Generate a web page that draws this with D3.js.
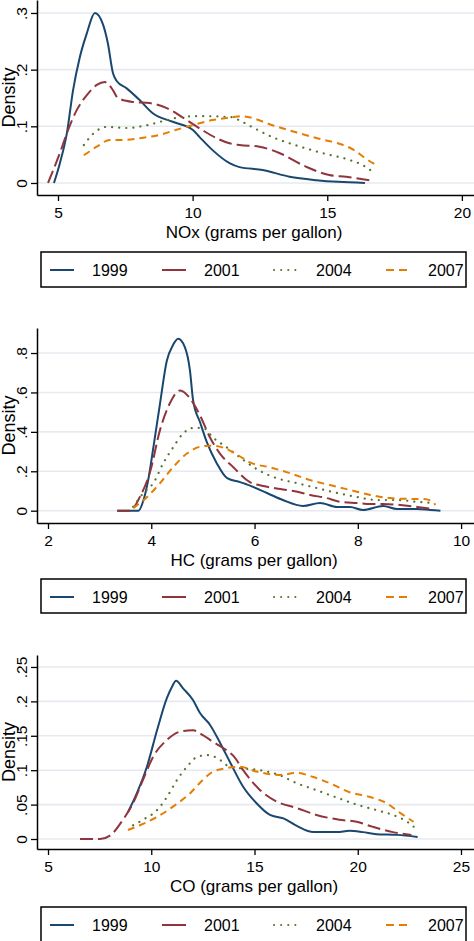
<!DOCTYPE html>
<html><head><meta charset="utf-8">
<script src="https://cdn.jsdelivr.net/npm/d3@7"></script>
<style>body{margin:0;background:#fff;}svg{display:block;font-family:"Liberation Sans",Arial,Helvetica,sans-serif;}</style>
</head><body><svg id="c" width="474" height="941"></svg>
<script>
const years = ["1999","2001","2004","2007"];
const colors = ["#1a476f","#90353b","#55752f","#e37e00"];
const dashes = [null,"13,5","0.1,7","7,5"];

// NOx panel [x, density]
const nox1999 = [[4.85,0],[5.07,0.035],[5.33,0.088],[5.56,0.164],[5.81,0.222],[6.07,0.264],[6.37,0.30],[6.67,0.28],[6.85,0.247],[7.04,0.194],[7.18,0.18],[7.55,0.167],[8.04,0.146],[8.52,0.123],[9.26,0.108],[10.0,0.094],[10.26,0.081],[10.74,0.058],[11.37,0.035],[11.74,0.028],[12.6,0.023],[13.6,0.011],[14.6,0.005],[15.4,0.002],[16.4,0.0]];
const nox2001 = [[4.63,0],[5.07,0.053],[5.33,0.088],[5.7,0.129],[6.07,0.155],[6.44,0.173],[6.74,0.178],[7.04,0.164],[7.22,0.15],[7.78,0.143],[8.41,0.141],[9.04,0.132],[9.78,0.111],[10.37,0.093],[10.89,0.079],[11.37,0.07],[11.74,0.067],[12.48,0.064],[13.22,0.053],[14.2,0.029],[15.07,0.014],[15.7,0.011],[16.56,0.005]];
const nox2004 = [[5.96,0.067],[6.33,0.088],[6.81,0.099],[7.55,0.097],[8.3,0.102],[9.04,0.111],[9.52,0.116],[10.26,0.118],[11.48,0.116],[11.63,0.113],[12.2,0.099],[12.96,0.081],[13.8,0.067],[14.8,0.053],[15.8,0.041],[16.3,0.032],[16.74,0.018]];
const nox2007 = [[5.96,0.049],[6.44,0.064],[6.93,0.076],[7.41,0.076],[8.04,0.079],[8.78,0.085],[9.4,0.094],[10.0,0.102],[10.74,0.111],[11.48,0.116],[11.8,0.118],[12.1,0.116],[12.96,0.102],[13.8,0.09],[14.7,0.078],[15.4,0.07],[16.0,0.058],[16.4,0.044],[16.8,0.032]];

// HC panel
const hc1999 = [[3.34,0],[3.75,0],[3.85,0.054],[3.94,0.155],[4.04,0.32],[4.17,0.545],[4.3,0.76],[4.42,0.84],[4.52,0.872],[4.65,0.83],[4.75,0.71],[4.81,0.56],[4.95,0.445],[5.08,0.345],[5.27,0.24],[5.47,0.165],[5.72,0.145],[5.78,0.14],[6.24,0.09],[6.55,0.054],[6.94,0.024],[7.27,0.039],[7.6,0.019],[7.85,0.019],[8.1,0.004],[8.49,0.024],[8.76,0.009],[9.15,0.009],[9.4,0.004],[9.6,0]];
const hc2001 = [[3.34,0],[3.59,0],[3.78,0.07],[3.98,0.2],[4.17,0.41],[4.36,0.545],[4.56,0.61],[4.75,0.57],[4.95,0.48],[5.14,0.37],[5.33,0.29],[5.59,0.22],[5.91,0.145],[6.17,0.125],[6.5,0.11],[6.83,0.096],[7.08,0.08],[7.4,0.064],[7.66,0.045],[7.99,0.039],[8.24,0.034],[8.49,0.034],[8.82,0.029],[9.15,0.019],[9.46,0.009]];
const hc2004 = [[3.65,0.02],[3.85,0.09],[4.04,0.14],[4.23,0.24],[4.42,0.32],[4.61,0.39],[4.81,0.42],[5.0,0.42],[5.2,0.37],[5.47,0.32],[5.72,0.27],[6.05,0.21],[6.43,0.165],[6.82,0.14],[7.2,0.115],[7.6,0.09],[7.98,0.07],[8.37,0.054],[8.76,0.054],[9.15,0.045],[9.4,0.04],[9.46,0.02]];
const hc2007 = [[3.65,0.013],[3.92,0.07],[4.17,0.14],[4.42,0.22],[4.69,0.29],[4.95,0.325],[5.14,0.33],[5.39,0.32],[5.72,0.275],[5.91,0.245],[6.3,0.22],[6.69,0.19],[7.08,0.155],[7.46,0.13],[7.85,0.105],[8.24,0.08],[8.63,0.064],[9.0,0.06],[9.27,0.06],[9.46,0.045],[9.5,0.029]];

// CO panel
const co1999 = [[8.87,0.039],[9.31,0.067],[9.79,0.105],[10.28,0.158],[10.76,0.205],[11.0,0.221],[11.2,0.23],[11.54,0.219],[12.02,0.202],[12.36,0.183],[12.84,0.166],[13.33,0.14],[13.81,0.112],[14.45,0.076],[15.1,0.052],[15.75,0.035],[16.4,0.03],[17.05,0.019],[17.85,0.01],[19.0,0.01],[19.6,0.012],[20.25,0.01],[20.9,0.007],[21.9,0.006],[22.9,0.003]];
const co2001 = [[6.55,0],[7.52,0],[8.0,0.005],[8.63,0.028],[9.12,0.052],[9.6,0.086],[10.1,0.12],[10.76,0.144],[11.4,0.156],[12.02,0.158],[12.5,0.151],[13.0,0.141],[13.65,0.129],[14.0,0.12],[14.45,0.1],[15.27,0.071],[16.1,0.054],[17.05,0.045],[18.0,0.035],[19.1,0.028],[19.95,0.025],[20.7,0.018],[21.7,0.01],[22.6,0.006]];
const co2004 = [[9.12,0.02],[9.6,0.028],[10.28,0.042],[10.76,0.061],[11.25,0.086],[11.73,0.105],[12.2,0.119],[12.7,0.122],[13.18,0.118],[13.8,0.105],[14.3,0.103],[15.27,0.1],[16.2,0.093],[17.05,0.081],[18.0,0.071],[19.0,0.06],[19.95,0.05],[20.9,0.042],[21.7,0.035],[22.4,0.025],[22.9,0.013]];
const co2007 = [[8.87,0.013],[9.45,0.02],[10.28,0.032],[11.05,0.047],[11.9,0.067],[12.5,0.086],[13.0,0.098],[13.65,0.103],[14.3,0.105],[15.1,0.098],[16.2,0.093],[17.05,0.096],[17.85,0.09],[18.65,0.081],[19.6,0.068],[20.6,0.061],[21.4,0.052],[22.05,0.038],[22.7,0.025]];

const noxTicksX = [5,10,15,20], noxTicksY = [0,0.1,0.2,0.3], noxTickLabelsY = ["0",".1",".2",".3"];
const hcTicksX = [2,4,6,8,10], hcTicksY = [0,0.2,0.4,0.6,0.8], hcTickLabelsY = ["0",".2",".4",".6",".8"];
const coTicksX = [5,10,15,20,25], coTicksY = [0,0.05,0.1,0.15,0.2,0.25], coTickLabelsY = ["0",".05",".1",".15",".2",".25"];

const panels = [
  {series:[nox1999,nox2001,nox2004,nox2007], xd:[4.22,20.45], yd:[-0.0212,0.3229], top:0, bottom:195, tx:noxTicksX, ty:noxTicksY, tyl:noxTickLabelsY, title:"NOx (grams per gallon)", leg:[252,287]},
  {series:[hc1999,hc2001,hc2004,hc2007], xd:[1.787,10.25], yd:[-0.0624,0.927], top:328, bottom:523, tx:hcTicksX, ty:hcTicksY, tyl:hcTickLabelsY, title:"HC (grams per gallon)", leg:[579,613]},
  {series:[co1999,co2001,co2004,co2007], xd:[4.467,25.63], yd:[-0.01453,0.2674], top:655, bottom:849, tx:coTicksX, ty:coTicksY, tyl:coTickLabelsY, title:"CO (grams per gallon)", leg:[907,946]}
];

const svg = d3.select("#c");
const L = 37, R = 474;

panels.forEach(p => {
  const x = d3.scaleLinear().domain(p.xd).range([L, R]);
  const y = d3.scaleLinear().domain(p.yd).range([p.bottom, p.top]);
  const g = svg.append("g");
  g.selectAll("line.grid").data(p.ty).join("line")
    .attr("x1", L).attr("x2", R).attr("y1", d=>y(d)).attr("y2", d=>y(d))
    .attr("stroke", "#e6eaf0").attr("stroke-width", 1.6);
  const line = d3.line().x(d=>x(d[0])).y(d=>y(d[1])).curve(d3.curveMonotoneX);
  p.series.forEach((s,i) => {
    g.append("path").attr("d", line(s)).attr("fill","none")
      .attr("stroke", colors[i]).attr("stroke-width", i===2?2.2:2)
      .attr("stroke-linecap", i===2?"round":"butt")
      .attr("stroke-dasharray", dashes[i]);
  });
  const xa = g.append("g").attr("transform",`translate(0,${p.bottom})`)
    .call(d3.axisBottom(x).tickValues(p.tx).tickSize(6).tickSizeOuter(0).tickPadding(6));
  xa.select(".domain").attr("stroke","#000").attr("stroke-width",1.5);
  xa.selectAll(".tick line").attr("stroke","#000").attr("stroke-width",1.3);
  xa.selectAll(".tick text").attr("font-size",15.5).attr("fill","#000").attr("font-family","Liberation Sans, Arial, sans-serif");
  const ya = g.append("g").attr("transform",`translate(${L},0)`)
    .call(d3.axisLeft(y).tickValues(p.ty).tickSize(6).tickSizeOuter(0).tickFormat((d,i)=>p.tyl[i]));
  ya.select(".domain").attr("stroke","#000").attr("stroke-width",1.5);
  ya.selectAll(".tick line").attr("stroke","#000").attr("stroke-width",1.3);
  ya.selectAll(".tick text").attr("font-size",15.5).attr("fill","#000")
    .attr("font-family","Liberation Sans, Arial, sans-serif")
    .attr("x",0).attr("dy",0).attr("text-anchor","middle")
    .attr("transform","translate(-16,0) rotate(-90)").attr("dominant-baseline","central");
  g.append("text").text("Density")
    .attr("transform",`translate(9,${(p.top+p.bottom)/2}) rotate(-90)`)
    .attr("text-anchor","middle").attr("dominant-baseline","central")
    .attr("font-size",18).attr("fill","#000");
  g.append("text").text(p.title).attr("x", 254).attr("y", p.bottom+43)
    .attr("text-anchor","middle").attr("font-size",17).attr("fill","#000");
  const lg = g.append("g");
  lg.append("rect").attr("x",41).attr("y",p.leg[0]).attr("width",425).attr("height",p.leg[1]-p.leg[0])
    .attr("fill","#fff").attr("stroke","#000").attr("stroke-width",1.5);
  const cy = p.leg[0] + 18;
  years.forEach((yr,i) => {
    const x0 = 50 + i*112;
    lg.append("line").attr("x1",x0).attr("x2",x0+24).attr("y1",cy).attr("y2",cy)
      .attr("stroke",colors[i]).attr("stroke-width",2)
      .attr("stroke-linecap", i===2?"round":"butt")
      .attr("stroke-dasharray", i===2?"0.1,7":(i===3?"8,5":null));
    lg.append("text").text(yr).attr("x",x0+42).attr("y",cy).attr("dominant-baseline","central")
      .attr("font-size",16).attr("fill","#000");
  });
});
</script></body></html>
